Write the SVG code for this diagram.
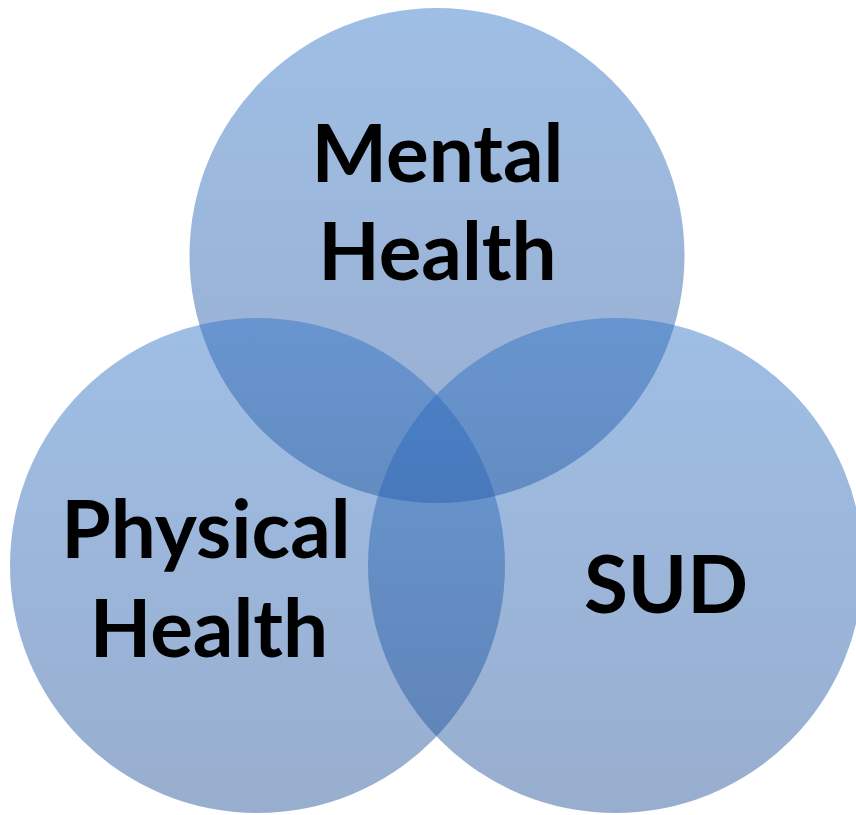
<svg xmlns="http://www.w3.org/2000/svg" width="856" height="815" viewBox="0 0 856 815">
  <defs>
    <linearGradient id="gTop" gradientUnits="userSpaceOnUse" x1="0" y1="8" x2="0" y2="503">
      <stop offset="0" stop-color="#2a6fc5"/>
      <stop offset="1" stop-color="#1a4b94"/>
    </linearGradient>
    <linearGradient id="gBot" gradientUnits="userSpaceOnUse" x1="0" y1="318" x2="0" y2="813">
      <stop offset="0" stop-color="#2a6fc5"/>
      <stop offset="1" stop-color="#1a4b94"/>
    </linearGradient>
  </defs>
  <style>
    .c { fill-opacity: 0.45; }
    .t { font-family: Lato, "Open Sans", "Liberation Sans", sans-serif; font-weight: bold; font-size: 80px; fill: #000; text-anchor: middle; }
  </style>
  <rect width="856" height="815" fill="#ffffff"/>
  <g id="mental">
    <circle class="c" cx="437" cy="255.5" r="247.5" fill="url(#gTop)"/>
  </g>
  <g id="physical">
    <circle class="c" cx="257.5" cy="565.5" r="247.5" fill="url(#gBot)"/>
  </g>
  <g id="sud">
    <circle class="c" cx="615.5" cy="565.5" r="247.5" fill="url(#gBot)"/>
  </g>
  <g id="labels">
    <text class="t" x="437.5" y="182">Mental</text>
    <text class="t" x="437.5" y="280">Health</text>
    <text class="t" x="206" y="558">Physical</text>
    <text class="t" x="209" y="657">Health</text>
    <text class="t" x="666" y="613">SUD</text>
  </g>
  <g id="connectors"/>
</svg>
